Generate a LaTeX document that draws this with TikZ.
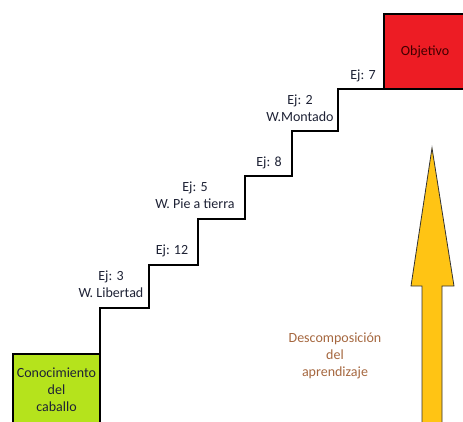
\documentclass[tikz,border=0pt]{standalone}
\usepackage{fontspec}
\setmainfont{Carlito}
\definecolor{boxgreen}{HTML}{B5E31C}
\definecolor{boxred}{HTML}{ED1C24}
\definecolor{arrowyellow}{HTML}{FFC414}
\definecolor{labeltext}{HTML}{1E2235}
\definecolor{desctext}{HTML}{A5673F}
\begin{document}
\begin{tikzpicture}[x=1pt,y=-1pt,
  every node/.style={font=\fontsize{14}{17}\selectfont, inner sep=0pt, align=center},
  box/.style={draw=black, line width=2.8pt, outer sep=0pt, minimum width=#1},
  lbl/.style={text=labeltext},
  stair/.style={draw=black, line width=2.8pt, line join=miter}]
\useasboundingbox (0,0) rectangle (463,422);
% big arrow
\fill[arrowyellow, draw=black!80, line width=0.8pt]
  (432,148) -- (454,286) -- (442,286) -- (442,430) -- (422,430) -- (422,286) -- (411,286) -- cycle;
% boxes
\node[box=87pt, fill=boxgreen, minimum height=72pt, text=labeltext] (green) at (56.5,390) {Conocimiento\\del\\caballo};
\node[box=82pt, fill=boxred, minimum height=75pt, text=black!75!red] (red) at (425,51.5) {Objetivo};
% stair
\draw[stair] (green.north east) -- (100,308) -- (149,308) -- (149,265) -- (198,265) -- (198,219)
  -- (245,219) -- (245,176) -- (292,176) -- (292,131) -- (338,131) -- (338,89) -- (red.south west);
% labels
\node[lbl] (l1) at (111,284) {Ej: 3\\W. Libertad};
\node[lbl] (l2) at (172,251) {Ej: 12};
\node[lbl] (l3) at (195,195.5) {Ej: 5\\W. Pie a tierra};
\node[lbl] (l4) at (269,163) {Ej: 8};
\node[lbl] (l5) at (300,108.5) {Ej: 2\\W.Montado};
\node[lbl] (l6) at (363,76) {Ej: 7};
\node[text=desctext] (desc) at (335,356) {Descomposición\\del\\aprendizaje};
\end{tikzpicture}
\end{document}
